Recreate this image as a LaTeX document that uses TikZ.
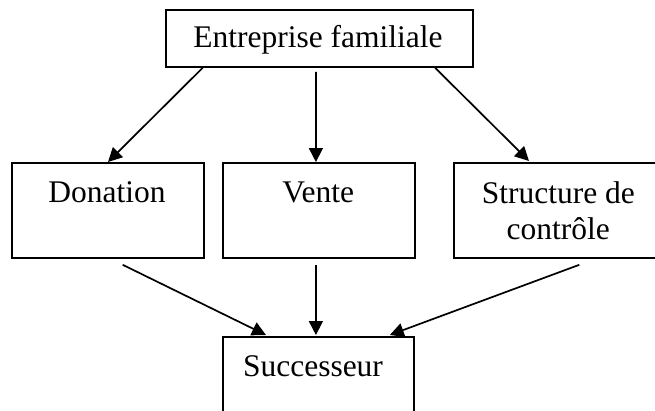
\documentclass[tikz,border=0pt]{standalone}
\usepackage{fontspec}
\setmainfont{Liberation Serif}
\usetikzlibrary{calc,arrows.meta}
\begin{document}
\begin{tikzpicture}[x=1pt,y=1pt,
  box/.style={draw,line width=1.8pt,inner sep=0pt,anchor=north west},
  lbl/.style={font=\fontsize{31.5}{36}\selectfont,inner sep=0pt,anchor=base,align=center},
  arr/.style={line width=1.7pt,-{Triangle[length=14pt,width=14pt]}}]
\useasboundingbox (0,0) rectangle (655,-410);
\clip (0,0) rectangle (655,-410);
\fill[white] (0,0) rectangle (655,-410);
\node[box,minimum width=307.3pt,minimum height=57.3pt] (top) at (164.7,-8.7) {};
\node[box,minimum width=192pt,minimum height=95pt] (don) at (11,-162) {};
\node[box,minimum width=192pt,minimum height=95pt] (ven) at (222.3,-162) {};
\node[box,minimum width=211pt,minimum height=95pt] (str) at (453,-162) {};
\node[box,minimum width=191pt,minimum height=100pt] (suc) at (222.3,-336) {};
\node[lbl] (ttop) at (318,-47.7) {Entreprise familiale};
\node[lbl] (tdon) at (107,-202.7) {Donation};
\node[lbl] (tven) at (318.3,-202.7) {Vente};
\node[lbl] (tstr) at (558.3,-239.3) {Structure de\\contrôle};
\node[lbl] (tsuc) at (313,-376.7) {Successeur};
\draw[arr] ($(top.south west)+(38,0)$) -- ($(don.north west)+(97,0)$);
\draw[arr] ($(top.south)+(-3.3,-4)$) -- ($(ven.north)+(-3.3,0)$);
\draw[arr] ($(top.south east)+(-38.7,0)$) -- ($(str.north west)+(76,1)$);
\draw[arr] ($(don.south west)+(111.7,-6)$) -- ($(suc.north west)+(43.7,1)$);
\draw[arr] ($(ven.south)+(-3.3,-6)$) -- ($(suc.north)+(-2.8,1)$);
\draw[arr] ($(str.south west)+(126.3,-6)$) -- ($(suc.north east)+(-25.3,1)$);
\end{tikzpicture}
\end{document}
